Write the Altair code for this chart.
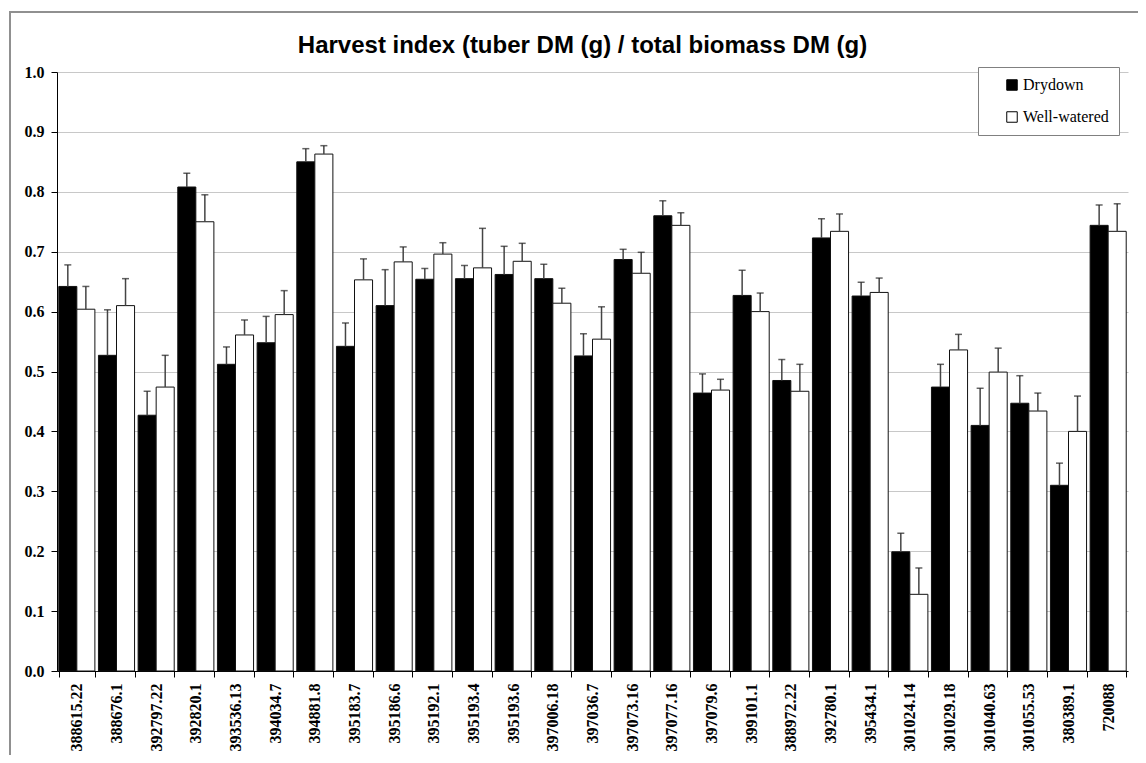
import altair as alt
import pandas as pd

clones = ["388615.22", "388676.1", "392797.22", "392820.1", "393536.13", "394034.7",
          "394881.8", "395183.7", "395186.6", "395192.1", "395193.4", "395193.6",
          "397006.18", "397036.7", "397073.16", "397077.16", "397079.6", "399101.1",
          "388972.22", "392780.1", "395434.1", "301024.14", "301029.18", "301040.63",
          "301055.53", "380389.1", "720088"]

drydown = [0.642, 0.527, 0.427, 0.808, 0.512, 0.548, 0.850, 0.542, 0.610, 0.654,
           0.655, 0.662, 0.655, 0.526, 0.687, 0.760, 0.464, 0.627, 0.485, 0.723,
           0.626, 0.199, 0.474, 0.410, 0.447, 0.310, 0.744]
drydown_err = [0.036, 0.076, 0.040, 0.023, 0.029, 0.044, 0.022, 0.039, 0.060, 0.018,
               0.022, 0.047, 0.024, 0.037, 0.017, 0.025, 0.032, 0.042, 0.035, 0.032,
               0.023, 0.031, 0.038, 0.062, 0.046, 0.037, 0.034]
watered = [0.604, 0.610, 0.474, 0.750, 0.561, 0.595, 0.863, 0.653, 0.683, 0.696,
           0.673, 0.684, 0.614, 0.554, 0.664, 0.744, 0.469, 0.600, 0.467, 0.734,
           0.632, 0.128, 0.536, 0.499, 0.434, 0.400, 0.734]
watered_err = [0.038, 0.045, 0.053, 0.045, 0.025, 0.040, 0.014, 0.035, 0.025, 0.019,
               0.066, 0.030, 0.025, 0.054, 0.035, 0.021, 0.018, 0.031, 0.045, 0.029,
               0.024, 0.044, 0.026, 0.040, 0.030, 0.059, 0.046]

series = ["Drydown", "Well-watered"]

rows = []
for i, c in enumerate(clones):
    rows.append({"clone": c, "treatment": series[0], "mean": drydown[i], "err": drydown_err[i]})
    rows.append({"clone": c, "treatment": series[1], "mean": watered[i], "err": watered_err[i]})
df = pd.DataFrame(rows)

serif = "Times New Roman, Liberation Serif, serif"

x_enc = alt.X("clone:N", sort=clones, title=None,
              scale=alt.Scale(paddingInner=0.09, paddingOuter=0.045),
              axis=alt.Axis(labelAngle=-90, labelAlign="right", labelBaseline="middle",
                            labelFont=serif, labelFontWeight="bold", labelFontSize=16,
                            labelColor="black", labelPadding=6, tickBand="extent",
                            tickSize=6, tickColor="black", domainColor="black",
                            grid=False))
xo = alt.XOffset("treatment:N", sort=series)

y_scale = alt.Scale(domain=[0, 1.0], nice=False)
y_axis = alt.Axis(values=[0, 0.1, 0.2, 0.3, 0.4, 0.5, 0.6, 0.7, 0.8, 0.9, 1.0],
                  format=".1f", labelFont=serif, labelFontWeight="bold", labelFontSize=16,
                  labelColor="black", labelPadding=7, tickSize=6, tickColor="black",
                  domainColor="black", grid=True, gridColor="#c8c8c8", gridWidth=1)

base = alt.Chart(df)

bars = base.mark_bar(stroke="#111", strokeWidth=1).encode(
    x=x_enc,
    xOffset=xo,
    y=alt.Y("mean:Q", scale=y_scale, axis=y_axis, title=None),
    fill=alt.Fill("treatment:N", sort=series,
                  scale=alt.Scale(domain=series, range=["black", "white"]),
                  legend=alt.Legend(title=None, orient="none", legendX=921, legendY=-5,
                                    symbolType="square", symbolSize=110,
                                    symbolStrokeColor="black", symbolStrokeWidth=1,
                                    labelFont=serif, labelFontSize=16, labelColor="black",
                                    labelOffset=3, rowPadding=16, padding=10,
                                    symbolOffset=16,
                                    strokeColor="#808080", fillColor="white")),
)

err = base.transform_calculate(upper="datum.mean + datum.err")

rules = err.mark_rule(color="#444", strokeWidth=1.5).encode(
    x=alt.X("clone:N", sort=clones),
    xOffset=xo,
    y=alt.Y("mean:Q", scale=y_scale),
    y2="upper:Q",
)

caps = err.mark_tick(color="#222", thickness=1.5, size=7, orient="horizontal").encode(
    x=alt.X("clone:N", sort=clones),
    xOffset=xo,
    y=alt.Y("upper:Q", scale=y_scale),
)

frame = alt.Chart(pd.DataFrame({"k": [0]})).mark_rect(
    fill=None, stroke="#909090", strokeWidth=2
).encode(x=alt.value(-47), x2=alt.value(1200), y=alt.value(-60), y2=alt.value(800))

chart = alt.layer(frame, bars, rules, caps).properties(
    width=1071, height=599,
    title=alt.TitleParams("Harvest index (tuber DM (g) / total biomass DM (g)",
                          font="Arial, Liberation Sans, sans-serif", fontSize=24,
                          fontWeight="bold", color="black", anchor="middle",
                          dx=-10, offset=0, dy=47),
    autosize=alt.AutoSizeParams(type="none"),
    padding={"left": 49, "top": 64, "right": 10, "bottom": 84},
).configure_view(stroke=None)

chart.save("out.html", embed_options={"renderer": "svg", "actions": False})
